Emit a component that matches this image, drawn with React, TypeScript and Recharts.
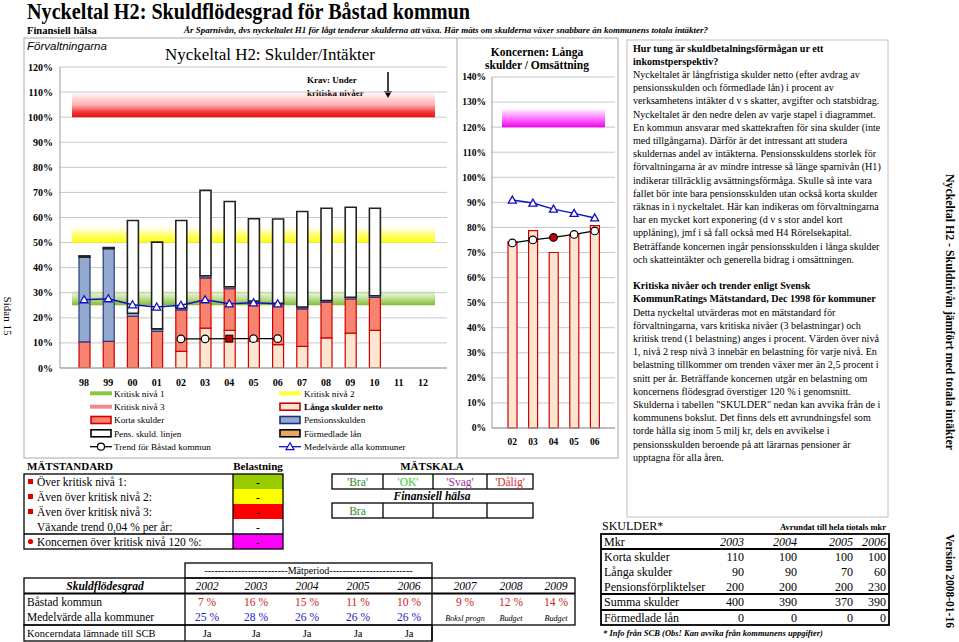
import React from 'react';
import { ComposedChart, Bar, Line, XAxis, YAxis, CartesianGrid, ReferenceArea } from 'recharts';

const SERIF = '"Liberation Serif", "Times New Roman", serif';
const SANS = '"Liberation Sans", Arial, sans-serif';

// ---------- data: main chart (Förvaltningarna) ----------
const years = ['98', '99', '00', '01', '02', '03', '04', '05', '06', '07', '08', '09', '10', '11', '12'];
const langaNetto = [null, null, null, null, 6.6, 15.9, 15.0, 10.6, 9.3, 8.6, 12.0, 13.9, 15.0, null, null];
const kortaSkulder = [10.4, 10.6, 20.6, 14.6, 16.6, 20.0, 16.6, 15.3, 15.9, 15.0, 14.3, 13.6, 13.1, null, null];
const pensionsskulden = [33.8, 37.0, 1.2, 1.0, 0.8, 0.9, 0.8, 0.8, 0.6, 0.7, 0.6, 0.7, 0.7, null, null];
const pensSkuldLinjen = [0.5, 0.4, 37.0, 34.6, 34.8, 34.0, 34.0, 32.8, 33.6, 38.1, 36.8, 35.9, 34.9, null, null];
const trendBastad = [null, null, null, null, 11.6, 11.6, 11.7, 11.7, 11.7, null, null, null, null, null, null];
const medelAlla = [27.2, 27.6, 25.2, 24.3, 25.0, 27.2, 25.6, 26.0, 25.6, null, null, null, null, null, null];
const mainTicks = [0, 10, 20, 30, 40, 50, 60, 70, 80, 90, 100, 110, 120];

// ---------- data: koncern chart ----------
const kYears = ['02', '03', '04', '05', '06'];
const kLanga = [74.2, 78.7, 70.0, 77.2, 80.7];
const kTrend = [73.8, 75.0, 76.0, 77.2, 78.6];
const kMedel = [90.9, 89.7, 87.3, 85.6, 83.8];
const kTicks = [0, 10, 20, 30, 40, 50, 60, 70, 80, 90, 100, 110, 120, 130, 140];

// ---------- table data ----------
const tYears = ['2002', '2003', '2004', '2005', '2006', '2007', '2008', '2009'];
const tBastad = ['7 %', '16 %', '15 %', '11 %', '10 %', '9 %', '12 %', '14 %'];
const tMedel = ['25 %', '28 %', '26 %', '26 %', '26 %'];
const tMedelNotes = ['Boksl progn', 'Budget', 'Budget'];
const tKoncern = ['Ja', 'Ja', 'Ja', 'Ja', 'Ja'];

const sYears = ['2003', '2004', '2005', '2006'];
const sRows: [string, string[]][] = [
  ['Korta skulder', ['110', '100', '100', '100']],
  ['Långa skulder', ['90', '90', '70', '60']],
  ['Pensionsförpliktelser', ['200', '200', '200', '230']],
  ['Summa skulder', ['400', '390', '370', '390']],
  ['Förmedlade lån', ['0', '0', '0', '0']],
];

const mainData = years.map((y, i) => ({
  year: y,
  langa: langaNetto[i],
  korta: kortaSkulder[i],
  pension: pensionsskulden[i],
  linje: pensSkuldLinjen[i],
  trend: trendBastad[i],
  medel: medelAlla[i],
}));
const kData = kYears.map((y, i) => ({ year: y, langa: kLanga[i], trend: kTrend[i], medel: kMedel[i] }));

const para1 = [
  'Nyckeltalet är långfristiga skulder netto (efter avdrag av',
  'pensionsskulden och förmedlade lån) i procent av',
  'verksamhetens intäkter d v s skatter, avgifter och statsbidrag.',
  'Nyckeltalet är den nedre delen av varje stapel i diagrammet.',
  'En kommun ansvarar med skattekraften för sina skulder (inte',
  'med tillgångarna). Därför är det intressant att studera',
  'skuldernas andel av intäkterna. Pensionsskuldens storlek för',
  'förvaltningarna är av mindre intresse så länge sparnivån (H1)',
  'indikerar tillräcklig avsättningsförmåga. Skulle så inte vara',
  'fallet bör inte bara pensionsskulden utan också korta skulder',
  'räknas in i nyckeltalet. Här kan indikeras om förvaltningarna',
  'har en mycket kort exponering (d v s stor andel kort',
  'upplåning), jmf i så fall också med H4 Rörelsekapital.',
  'Beträffande koncernen ingår pensionsskulden i långa skulder',
  'och skatteintäkter och generella bidrag i omsättningen.',
];
const para2 = [
  'Detta nyckeltal utvärderas mot en mätstandard för',
  'förvaltningarna, vars kritiska nivåer (3 belastningar) och',
  'kritisk trend (1 belastning) anges i procent. Värden över nivå',
  '1, nivå 2 resp nivå 3 innebär en belastning för varje nivå. En',
  'belastning tillkommer om trenden växer mer än 2,5 procent i',
  'snitt per år. Beträffande koncernen utgår en belastning om',
  'koncernens flödesgrad överstiger 120 % i genomsnitt.',
  'Skulderna i tabellen "SKULDER" nedan kan avvika från de i',
  'kommunens bokslut. Det finns dels ett avrundningsfel som',
  'torde hålla sig inom 5 milj kr, dels en avvikelse i',
  'pensionsskulden beroende på att lärarnas pensioner är',
  'upptagna för alla åren.',
];

const TrendDot = (props: any) => {
  const { cx, cy, index } = props;
  if (cx == null || cy == null || props.value == null) return <g key={'td' + index} />;
  if (years[index] === '04') {
    return <rect key={'td' + index} x={cx - 3.5} y={cy - 3.5} width={7} height={7} fill="#C00000" stroke="#000" strokeWidth={1} />;
  }
  return <circle key={'td' + index} cx={cx} cy={cy} r={3.8} fill="#fff" stroke="#000" strokeWidth={1.2} />;
};
const KTrendDot = (props: any) => {
  const { cx, cy, index } = props;
  if (cx == null || cy == null) return <g key={'kd' + index} />;
  const red = kYears[index] === '04';
  return <circle key={'kd' + index} cx={cx} cy={cy} r={3.8} fill={red ? '#CC0000' : '#fff'} stroke="#000" strokeWidth={1.2} />;
};
const TriDot = (props: any) => {
  const { cx, cy, index } = props;
  if (cx == null || cy == null || props.value == null) return <g key={'tr' + index} />;
  return (
    <polygon key={'tr' + index} points={`${cx},${cy - 4} ${cx - 4},${cy + 3} ${cx + 4},${cy + 3}`} fill="#fff" stroke="#1010C0" strokeWidth={1.3} />
  );
};

const yTick = { fontSize: 10, fontWeight: 700, fill: '#000', fontFamily: SERIF };
const kyTick = { fontSize: 9.5, fontWeight: 700, fill: '#000', fontFamily: SERIF };

function T(p: { x: number; y: number; s?: number; b?: boolean; i?: boolean; a?: 'start' | 'middle' | 'end'; c?: string; f?: string; len?: number; children: React.ReactNode }) {
  return (
    <text
      x={p.x}
      y={p.y}
      fontSize={p.s ?? 11}
      fontWeight={p.b ? 700 : 400}
      fontStyle={p.i ? 'italic' : 'normal'}
      textAnchor={p.a ?? 'start'}
      fill={p.c ?? '#000'}
      fontFamily={p.f ?? SERIF}
      textLength={p.len}
      lengthAdjust={p.len ? 'spacingAndGlyphs' : undefined}
    >
      {p.children}
    </text>
  );
}

function StaticLayer() {
  const legRows = [393.3, 406.7, 420, 433.3, 446.7];
  const c1 = 90, c2 = 279;
  const boxSym = (x: number, y: number, fill: string, stroke: string) => (
    <rect x={x + 1} y={y - 3.5} width={20} height={7} fill={fill} stroke={stroke} strokeWidth={1.6} />
  );
  const lineSym = (x: number, y: number, color: string) => <rect x={x} y={y - 2} width={22} height={4} fill={color} />;
  const mRows = [474, 489, 504, 519, 534, 549];
  const belColors = ['#99CC00', '#FFFF00', '#FF0000', '#FFFFFF', '#FF00FF'];
  const mLabels = ['Över kritisk nivå 1:', 'Även över kritisk nivå 2:', 'Även över kritisk nivå 3:', 'Växande trend 0,04 % per år:', 'Koncernen över kritisk nivå 120 %:'];
  const yCenters = [207, 256, 307, 358, 409, 465, 511, 556];
  const sRight = [744, 797, 853, 886];
  const sTop = [534, 549, 564, 579, 594, 610, 625];
  return (
    <svg width={959} height={642} style={{ position: 'absolute', left: 0, top: 0 }}>
      {/* header */}
      <T x={27} y={19} s={22.5} b len={443}>Nyckeltal H2: Skuldflödesgrad för Båstad kommun</T>
      <T x={27} y={33.5} s={10.5} b>Finansiell hälsa</T>
      <T x={184} y={33} s={8.8} b i len={524}>Är Sparnivån, dvs nyckeltalet H1 för lågt tenderar skulderna att växa. Här mäts om skulderna växer snabbare än kommunens totala intäkter?</T>

      {/* frames */}
      <rect x={24} y={38} width={594} height={420} fill="none" stroke="#A8A8A8" strokeWidth={1} />
      <line x1={457} y1={38} x2={457} y2={458} stroke="#A8A8A8" strokeWidth={1} />
      <rect x={627} y={40} width={261} height={477} fill="none" stroke="#C0C0C0" strokeWidth={1} />

      <T x={27} y={50} s={11.5} i f={SANS}>Förvaltningarna</T>
      <T x={165} y={60} s={17} len={210}>Nyckeltal H2: Skulder/Intäkter</T>
      <T x={307} y={83} s={9} b>Krav: Under</T>
      <T x={307} y={96} s={9} b>kritiska nivåer</T>
      <line x1={388} y1={72} x2={388} y2={92} stroke="#000" strokeWidth={1.5} />
      <polygon points="384,91 392,91 388,98" fill="#000" />

      <T x={537} y={56} s={11.5} b a="middle">Koncernen: Långa</T>
      <T x={537} y={69} s={11.5} b a="middle">skulder / Omsättning</T>

      {/* legend */}
      {lineSym(c1, legRows[0], '#8CC63F')}
      <T x={114} y={legRows[0] + 3.2} s={9.2}>Kritisk nivå 1</T>
      {lineSym(c1, legRows[1], '#F08A8A')}
      <T x={114} y={legRows[1] + 3.2} s={9.2}>Kritisk nivå 3</T>
      {boxSym(c1, legRows[2], '#F7846F', '#D00000')}
      <T x={114} y={legRows[2] + 3.2} s={9.2}>Korta skulder</T>
      {boxSym(c1, legRows[3], '#FFFFFF', '#000')}
      <T x={114} y={legRows[3] + 3.2} s={9.2}>Pens. skuld. linjen</T>
      <line x1={c1} y1={legRows[4]} x2={c1 + 22} y2={legRows[4]} stroke="#000" strokeWidth={1.3} />
      <circle cx={c1 + 11} cy={legRows[4]} r={3.5} fill="#fff" stroke="#000" strokeWidth={1.2} />
      <T x={114} y={legRows[4] + 3.2} s={9.2}>Trend för Båstad kommun</T>

      {lineSym(c2, legRows[0], '#FFFF33')}
      <T x={304} y={legRows[0] + 3.2} s={9.2}>Kritisk nivå 2</T>
      {boxSym(c2, legRows[1], '#FDE6CF', '#D00000')}
      <T x={304} y={legRows[1] + 3.2} s={9.2} b>Långa skulder netto</T>
      {boxSym(c2, legRows[2], '#93A9CF', '#1F2F80')}
      <T x={304} y={legRows[2] + 3.2} s={9.2}>Pensionsskulden</T>
      {boxSym(c2, legRows[3], '#E8A860', '#000')}
      <T x={304} y={legRows[3] + 3.2} s={9.2}>Förmedlade lån</T>
      <line x1={c2} y1={legRows[4]} x2={c2 + 22} y2={legRows[4]} stroke="#1010C0" strokeWidth={1.3} />
      <polygon points={`${c2 + 11},${legRows[4] - 4} ${c2 + 7},${legRows[4] + 3} ${c2 + 15},${legRows[4] + 3}`} fill="#fff" stroke="#1010C0" strokeWidth={1.2} />
      <T x={304} y={legRows[4] + 3.2} s={9.2}>Medelvärde alla kommuner</T>

      {/* MÄTSTANDARD */}
      <T x={27} y={470} s={11} b>MÄTSTANDARD</T>
      <T x={258} y={470} s={11} b a="middle">Belastning</T>
      <T x={432} y={470} s={11} b a="middle">MÄTSKALA</T>
      {belColors.map((c, i) => (
        <rect key={'bc' + i} x={233} y={mRows[i]} width={50} height={15} fill={c} />
      ))}
      <rect x={24} y={474} width={259} height={75} fill="none" stroke="#000" strokeWidth={1.3} />
      <line x1={233} y1={474} x2={233} y2={549} stroke="#000" strokeWidth={1.3} />
      <line x1={24} y1={534} x2={283} y2={534} stroke="#000" strokeWidth={1.3} />
      {mLabels.map((l, i) => (
        <g key={'ml' + i}>
          {i < 3 && <rect x={28} y={mRows[i] + 5} width={5} height={5} fill="#E00000" />}
          {i === 4 && <circle cx={30.5} cy={mRows[i] + 7.5} r={2.6} fill="#E00000" />}
          <T x={37} y={mRows[i] + 11.5} s={11.5}>{l}</T>
          <T x={258} y={mRows[i] + 11.5} s={11.5} a="middle">-</T>
        </g>
      ))}
      <rect x={332} y={474} width={201} height={15} fill="none" stroke="#000" strokeWidth={1.3} />
      {[383, 433, 487].map((x) => (
        <line key={'ms' + x} x1={x} y1={474} x2={x} y2={489} stroke="#000" strokeWidth={1.3} />
      ))}
      <T x={357.5} y={485.5} s={11.5} a="middle" c="#2E8B2E">'Bra'</T>
      <T x={408} y={485.5} s={11.5} a="middle" c="#33CC33">'OK'</T>
      <T x={460} y={485.5} s={11.5} a="middle" c="#993399">'Svag'</T>
      <T x={510} y={485.5} s={11.5} a="middle" c="#CC3333">'Dålig'</T>
      <T x={432} y={500} s={11.5} b i a="middle">Finansiell hälsa</T>
      <rect x={332} y={503} width={201} height={15} fill="none" stroke="#000" strokeWidth={1.3} />
      {[383, 433, 487].map((x) => (
        <line key={'ms2' + x} x1={x} y1={503} x2={x} y2={518} stroke="#000" strokeWidth={1.3} />
      ))}
      <T x={357.5} y={514.5} s={11.5} a="middle" c="#2E8B2E">Bra</T>

      {/* Mätperiod table */}
      <rect x={185} y={563} width={247} height={15} fill="none" stroke="#000" strokeWidth={1.3} />
      <T x={308.5} y={574} s={10} a="middle">-------------------------Mätperiod-------------------------</T>
      <rect x={24} y={578} width={551} height={47} fill="none" stroke="#000" strokeWidth={1.3} />
      <rect x={24} y={625} width={408} height={16} fill="none" stroke="#000" strokeWidth={1.3} />
      <line x1={24} y1={593.5} x2={575} y2={593.5} stroke="#000" strokeWidth={2} />
      <line x1={185} y1={578} x2={185} y2={641} stroke="#000" strokeWidth={1.3} />
      <line x1={432} y1={578} x2={432} y2={641} stroke="#000" strokeWidth={1.3} />
      <T x={105} y={589.5} s={11.5} b i a="middle">Skuldflödesgrad</T>
      {tYears.map((y, i) => (
        <T key={'ty' + i} x={yCenters[i]} y={589.5} s={11.5} i a="middle">{y}</T>
      ))}
      <T x={27} y={605.5} s={11.5}>Båstad kommun</T>
      {tBastad.map((v, i) => (
        <T key={'tb' + i} x={yCenters[i]} y={605.5} s={11.5} a="middle" c="#CC2222">{v}</T>
      ))}
      <T x={27} y={621} s={11.5}>Medelvärde alla kommuner</T>
      {tMedel.map((v, i) => (
        <T key={'tm' + i} x={yCenters[i]} y={621} s={11.5} a="middle" c="#2222BB">{v}</T>
      ))}
      {tMedelNotes.map((v, i) => (
        <T key={'tn' + i} x={yCenters[5 + i]} y={621} s={8.2} i a="middle">{v}</T>
      ))}
      <T x={27} y={637} s={10.5}>Koncerndata lämnade till SCB</T>
      {tKoncern.map((v, i) => (
        <T key={'tk' + i} x={yCenters[i]} y={637} s={10.5} a="middle">{v}</T>
      ))}

      {/* right text */}
      <T x={633} y={51.5} s={10.1} b>Hur tung är skuldbetalningsförmågan ur ett</T>
      <T x={633} y={64.7} s={10.1} b>inkomstperspektiv?</T>
      {para1.map((l, i) => (
        <T key={'p1' + i} x={633} y={77.9 + 13.2 * i} s={10.1}>{l}</T>
      ))}
      <T x={633} y={289.1} s={10.1} b>Kritiska nivåer och trender enligt Svensk</T>
      <T x={633} y={302.3} s={10.1} b>KommunRatings Mätstandard, Dec 1998 för kommuner</T>
      {para2.map((l, i) => (
        <T key={'p2' + i} x={633} y={315.5 + 13.2 * i} s={10.1}>{l}</T>
      ))}

      {/* SKULDER table */}
      <T x={602} y={530} s={12}>SKULDER*</T>
      <T x={886} y={530} s={8.5} b a="end">Avrundat till hela tiotals mkr</T>
      <rect x={601} y={534} width={288} height={91} fill="none" stroke="#000" strokeWidth={1.8} />
      <line x1={601} y1={549} x2={889} y2={549} stroke="#000" strokeWidth={1.8} />
      <line x1={601} y1={594} x2={889} y2={594} stroke="#000" strokeWidth={1.8} />
      <line x1={601} y1={610} x2={889} y2={610} stroke="#000" strokeWidth={1.8} />
      <T x={604} y={545.5} s={12}>Mkr</T>
      {sYears.map((y, i) => (
        <T key={'sy' + i} x={sRight[i]} y={545.5} s={12} i a="end">{y}</T>
      ))}
      {sRows.map(([label, vals], r) => (
        <g key={'sr' + r}>
          <T x={604} y={sTop[r + 1] + 11.5} s={12}>{label}</T>
          {vals.map((v, i) => (
            <T key={'sv' + r + i} x={sRight[i]} y={sTop[r + 1] + 11.5} s={12} a="end">{v}</T>
          ))}
        </g>
      ))}
      <T x={603} y={636} s={8.5} b i>* Info från SCB (Obs! Kan avvika från kommunens uppgifter)</T>

      {/* rotated side texts */}
      <g transform="translate(4,316) rotate(90)">
        <T x={0} y={0} s={11} a="middle">Sidan 15</T>
      </g>
      <g transform="translate(946,312) rotate(90)">
        <T x={0} y={0} s={11.5} b a="middle" len={276}>Nyckeltal H2 - Skuldnivån jämfört med totala intäkter</T>
      </g>
      <g transform="translate(946,581) rotate(90)">
        <T x={0} y={0} s={11.5} b a="middle">Version 2008-01-16</T>
      </g>
    </svg>
  );
}

function MainChart() {
  return (
    <div style={{ position: 'absolute', left: 0, top: 0 }}>
      <ComposedChart width={470} height={400} data={mainData} margin={{ top: 67, right: 23, left: 20, bottom: 12 }}>
        <defs>
          <linearGradient id="gGreen" x1="0" y1="0" x2="0" y2="1">
            <stop offset="0" stopColor="#8CC63F" stopOpacity={0} />
            <stop offset="0.5" stopColor="#8CC63F" stopOpacity={0.45} />
            <stop offset="1" stopColor="#7DBB2F" stopOpacity={1} />
          </linearGradient>
          <linearGradient id="gYellow" x1="0" y1="0" x2="0" y2="1">
            <stop offset="0" stopColor="#FFFF00" stopOpacity={0} />
            <stop offset="0.5" stopColor="#FFFF00" stopOpacity={0.5} />
            <stop offset="1" stopColor="#FFFF00" stopOpacity={1} />
          </linearGradient>
          <linearGradient id="gRed" x1="0" y1="0" x2="0" y2="1">
            <stop offset="0" stopColor="#FF3030" stopOpacity={0} />
            <stop offset="0.5" stopColor="#FF4040" stopOpacity={0.4} />
            <stop offset="0.8" stopColor="#F02020" stopOpacity={0.9} />
            <stop offset="1" stopColor="#E81010" stopOpacity={1} />
          </linearGradient>
        </defs>
        <CartesianGrid vertical={false} stroke="#C8C8C8" />
        <ReferenceArea y1={25} y2={31.5} fill="url(#gGreen)" fillOpacity={1} stroke="none" ifOverflow="visible" />
        <ReferenceArea y1={50} y2={56.5} fill="url(#gYellow)" fillOpacity={1} stroke="none" ifOverflow="visible" />
        <ReferenceArea y1={100} y2={110} fill="url(#gRed)" fillOpacity={1} stroke="none" ifOverflow="visible" />
        <XAxis
          dataKey="year"
          type="category"
          padding={{ left: 12, right: 12 }}
          height={20}
          tickLine={false}
          tickSize={4}
          tickMargin={7}
          axisLine={{ stroke: '#999' }}
          tick={yTick}
          interval={0}
        />
        <YAxis
          type="number"
          domain={[0, 120]}
          ticks={mainTicks}
          width={40}
          tickLine={false}
          tickSize={5}
          tickMargin={2}
          axisLine={{ stroke: '#999' }}
          tick={yTick}
          tickFormatter={(v: number) => `${v}%`}
          allowDataOverflow
        />
        <Bar dataKey="langa" stackId="s" barSize={11} fill="#FDE6CF" stroke="#D00000" strokeWidth={1.2} isAnimationActive={false} />
        <Bar dataKey="korta" stackId="s" barSize={11} fill="#F7846F" stroke="#D00000" strokeWidth={1.2} isAnimationActive={false} />
        <Bar dataKey="pension" stackId="s" barSize={11} fill="#93A9CF" stroke="#2A3A80" strokeWidth={1.2} isAnimationActive={false} />
        <Bar dataKey="linje" stackId="s" barSize={11} fill="#FFFFFF" stroke="#222" strokeWidth={1.6} isAnimationActive={false} />
        <Line dataKey="medel" stroke="#1010C0" strokeWidth={1.5} dot={TriDot} activeDot={false} isAnimationActive={false} />
        <Line dataKey="trend" stroke="#000" strokeWidth={1.3} dot={TrendDot} activeDot={false} isAnimationActive={false} />
      </ComposedChart>
    </div>
  );
}

function KoncernChart() {
  return (
    <div style={{ position: 'absolute', left: 450, top: 0 }}>
      <ComposedChart width={170} height={460} data={kData} margin={{ top: 77, right: 5, left: 12, bottom: 12 }}>
        <defs>
          <linearGradient id="gMag" x1="0" y1="0" x2="0" y2="1">
            <stop offset="0" stopColor="#FF00FF" stopOpacity={0} />
            <stop offset="0.5" stopColor="#FF00FF" stopOpacity={0.5} />
            <stop offset="1" stopColor="#F000F0" stopOpacity={1} />
          </linearGradient>
        </defs>
        <CartesianGrid vertical={false} stroke="#C8C8C8" />
        <ReferenceArea y1={120} y2={127.5} fill="url(#gMag)" fillOpacity={1} stroke="none" ifOverflow="visible" />
        <XAxis
          dataKey="year"
          type="category"
          padding={{ left: 10, right: 10 }}
          height={20}
          tickLine={false}
          tickSize={0}
          tickMargin={10}
          axisLine={{ stroke: '#999' }}
          tick={kyTick}
          interval={0}
        />
        <YAxis
          type="number"
          domain={[0, 140]}
          ticks={kTicks}
          width={30}
          tickLine={false}
          tickSize={4}
          tickMargin={2}
          axisLine={{ stroke: '#999' }}
          tick={kyTick}
          tickFormatter={(v: number) => `${v}%`}
        />
        <Bar dataKey="langa" barSize={9} fill="#FDE6CF" stroke="#D00000" strokeWidth={1.2} isAnimationActive={false} />
        <Line dataKey="medel" stroke="#1010C0" strokeWidth={1.5} dot={TriDot} activeDot={false} isAnimationActive={false} />
        <Line dataKey="trend" stroke="#000" strokeWidth={1.3} dot={KTrendDot} activeDot={false} isAnimationActive={false} />
      </ComposedChart>
    </div>
  );
}

export default function App() {
  return (
    <div style={{ position: 'absolute', left: 0, top: 0, width: 959, height: 642, background: '#fff', overflow: 'hidden', fontFamily: SERIF }}>
      <StaticLayer />
      <MainChart />
      <KoncernChart />
    </div>
  );
}
